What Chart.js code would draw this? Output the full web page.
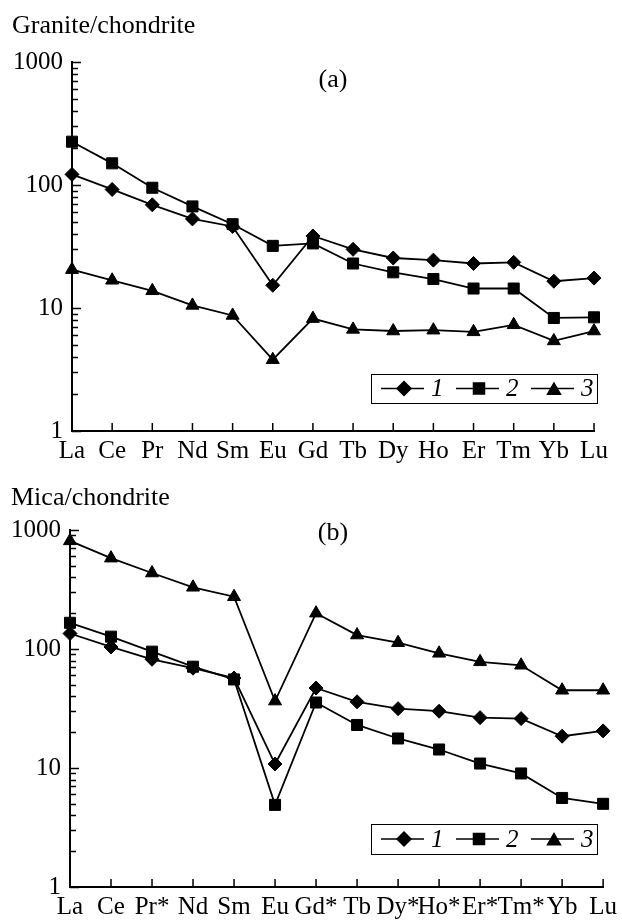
<!DOCTYPE html>
<html>
<head>
<meta charset="utf-8">
<script src="https://cdn.jsdelivr.net/npm/chart.js@4.4.1/dist/chart.umd.min.js"></script>
<style>
  body { margin: 0; background: #fff; }
  canvas { display: block; }
</style>
</head>
<body>
<canvas id="graficoA" width="622" height="465"></canvas>
<canvas id="graficoB" width="622" height="455"></canvas>
<script>
// elementos (eixo x)
const labelsA = ['La', 'Ce', 'Pr', 'Nd', 'Sm', 'Eu', 'Gd', 'Tb', 'Dy', 'Ho', 'Er', 'Tm', 'Yb', 'Lu'];
const labelsB = ['La', 'Ce', 'Pr*', 'Nd', 'Sm', 'Eu', 'Gd*', 'Tb', 'Dy*', 'Ho*', 'Er*', 'Tm*', 'Yb', 'Lu'];

// (a) granito / condrito
const granito1 = [122, 92, 69, 53, 46, 15.3, 38.5, 30, 25.5, 24.5, 23, 23.5, 16.5, 17.5];
const granito2 = [225, 150, 95, 67, 48, 32, 33.5, 23, 19.5, 17.2, 14.4, 14.4, 8.3, 8.4];
const granito3 = [20.5, 16.8, 13.8, 10.5, 8.7, 3.8, 8.2, 6.7, 6.5, 6.6, 6.4, 7.3, 5.4, 6.5];

// (b) mica / condrito
const mica1 = [135, 104, 82, 69, 57, 10.8, 47, 36, 31.5, 30, 26.5, 26, 18.5, 20.5];
const mica2 = [166, 127, 95, 71, 55.5, 4.9, 35.5, 23, 17.7, 14.3, 10.9, 9.0, 5.6, 5.0];
const mica3 = [810, 580, 435, 330, 275, 36.5, 200, 131, 113, 92, 78, 73, 45, 45];

const yTicks = [1, 2, 3, 4, 5, 6, 7, 8, 9, 10, 20, 30, 40, 50, 60, 70, 80, 90,
  100, 200, 300, 400, 500, 600, 700, 800, 900, 1000];
const decadas = [1, 10, 100, 1000];
const serieNomes = ['1', '2', '3'];
const estilos = ['rectRot', 'rect', 'triangle'];
const raios = [7, 7.8, 7.5];

const FONTE = 'Liberation Serif, Times New Roman, serif';

// ticks para dentro, titulo, "(a)" e legenda
const painel = {
  id: 'painel',
  afterDraw(chart, args, opts) {
    const { ctx, chartArea, scales: { x, y } } = chart;
    ctx.save();
    ctx.strokeStyle = '#000';
    ctx.lineWidth = 1.5;
    ctx.beginPath();
    x.ticks.forEach((t, i) => {
      const px = x.getPixelForTick(i);
      ctx.moveTo(px, chartArea.bottom);
      ctx.lineTo(px, chartArea.bottom - 8);
    });
    y.ticks.forEach(t => {
      const py = Math.round(y.getPixelForValue(t.value)) + 0.5;
      const len = decadas.includes(t.value) ? 9 : 6;
      ctx.moveTo(chartArea.left, py);
      ctx.lineTo(chartArea.left + len, py);
    });
    ctx.stroke();

    ctx.fillStyle = '#000';
    ctx.font = '26px ' + FONTE;
    ctx.textAlign = 'left';
    ctx.textBaseline = 'alphabetic';
    ctx.fillText(opts.titulo, opts.tituloX, opts.tituloY);
    ctx.textAlign = 'center';
    ctx.textBaseline = 'middle';
    ctx.fillText(opts.tag, opts.tagX, opts.tagY);

    // legenda
    const L = opts.legenda;
    ctx.lineWidth = 1;
    ctx.strokeRect(L.x + 0.5, L.y + 0.5, L.w, L.h);
    const cy = L.y + L.h / 2;
    ctx.font = 'italic 25px ' + FONTE;
    ctx.textAlign = 'left';
    chart.data.datasets.forEach((ds, i) => {
      const x0 = L.x + 10 + i * 75;
      ctx.lineWidth = 1.5;
      ctx.beginPath();
      ctx.moveTo(x0, cy);
      ctx.lineTo(x0 + 43, cy);
      ctx.stroke();
      Chart.helpers.drawPoint(ctx, {
        pointStyle: ds.pointStyle, radius: ds.pointRadius, borderWidth: 1, rotation: 0
      }, x0 + 23, cy + (ds.pointStyle === 'triangle' ? 2 : 0));
      ctx.fillText(serieNomes[i], x0 + 50, cy + 1);
    });
    ctx.restore();
  }
};

function criarGrafico(id, labels, series, cfg) {
  const ctx = document.getElementById(id).getContext('2d');
  return new Chart(ctx, {
    type: 'line',
    data: {
      labels: labels,
      datasets: series.map((s, i) => ({
        label: serieNomes[i],
        data: s,
        borderColor: '#000',
        backgroundColor: '#000',
        borderWidth: 1.8,
        pointStyle: estilos[i],
        pointRadius: raios[i],
        pointBorderWidth: 1,
        tension: 0,
        fill: false
      }))
    },
    options: {
      responsive: false,
      animation: false,
      devicePixelRatio: 1,
      layout: { padding: { top: cfg.topo, right: cfg.direita, left: 0, bottom: 0 } },
      scales: {
        x: {
          type: 'category',
          offset: false,
          grid: { display: false, drawTicks: false },
          border: { display: true, color: '#000', width: 2 },
          ticks: { color: '#000', font: { family: FONTE, size: 25 }, padding: 5, autoSkip: false, maxRotation: 0 },
          afterFit: s => { s.height = cfg.alturaX; }
        },
        y: {
          type: 'logarithmic',
          min: 1,
          max: 1000,
          grid: { display: false, drawTicks: false },
          border: { display: true, color: '#000', width: 2 },
          afterBuildTicks: s => { s.ticks = yTicks.map(v => ({ value: v })); },
          ticks: {
            color: '#000',
            font: { family: FONTE, size: 25 },
            padding: 9,
            autoSkip: false,
            callback: v => decadas.includes(v) ? String(v) : ''
          },
          afterFit: s => { s.width = cfg.larguraY; }
        }
      },
      plugins: {
        legend: { display: false },
        tooltip: { enabled: false },
        painel: cfg.painel
      }
    },
    plugins: [painel]
  });
}

criarGrafico('graficoA', labelsA, [granito1, granito2, granito3], {
  topo: 62, direita: 28, alturaX: 34, larguraY: 72,
  painel: {
    titulo: 'Granite/chondrite', tituloX: 12, tituloY: 33,
    tag: '(a)', tagX: 333, tagY: 80,
    legenda: { x: 371, y: 374, w: 226, h: 29 }
  }
});

criarGrafico('graficoB', labelsB, [mica1, mica2, mica3], {
  topo: 65, direita: 15, alturaX: 33, larguraY: 70,
  painel: {
    titulo: 'Mica/chondrite', tituloX: 11, tituloY: 40,
    tag: '(b)', tagX: 333, tagY: 68,
    legenda: { x: 371, y: 359, w: 226, h: 30 }
  }
});
</script>
</body>
</html>
